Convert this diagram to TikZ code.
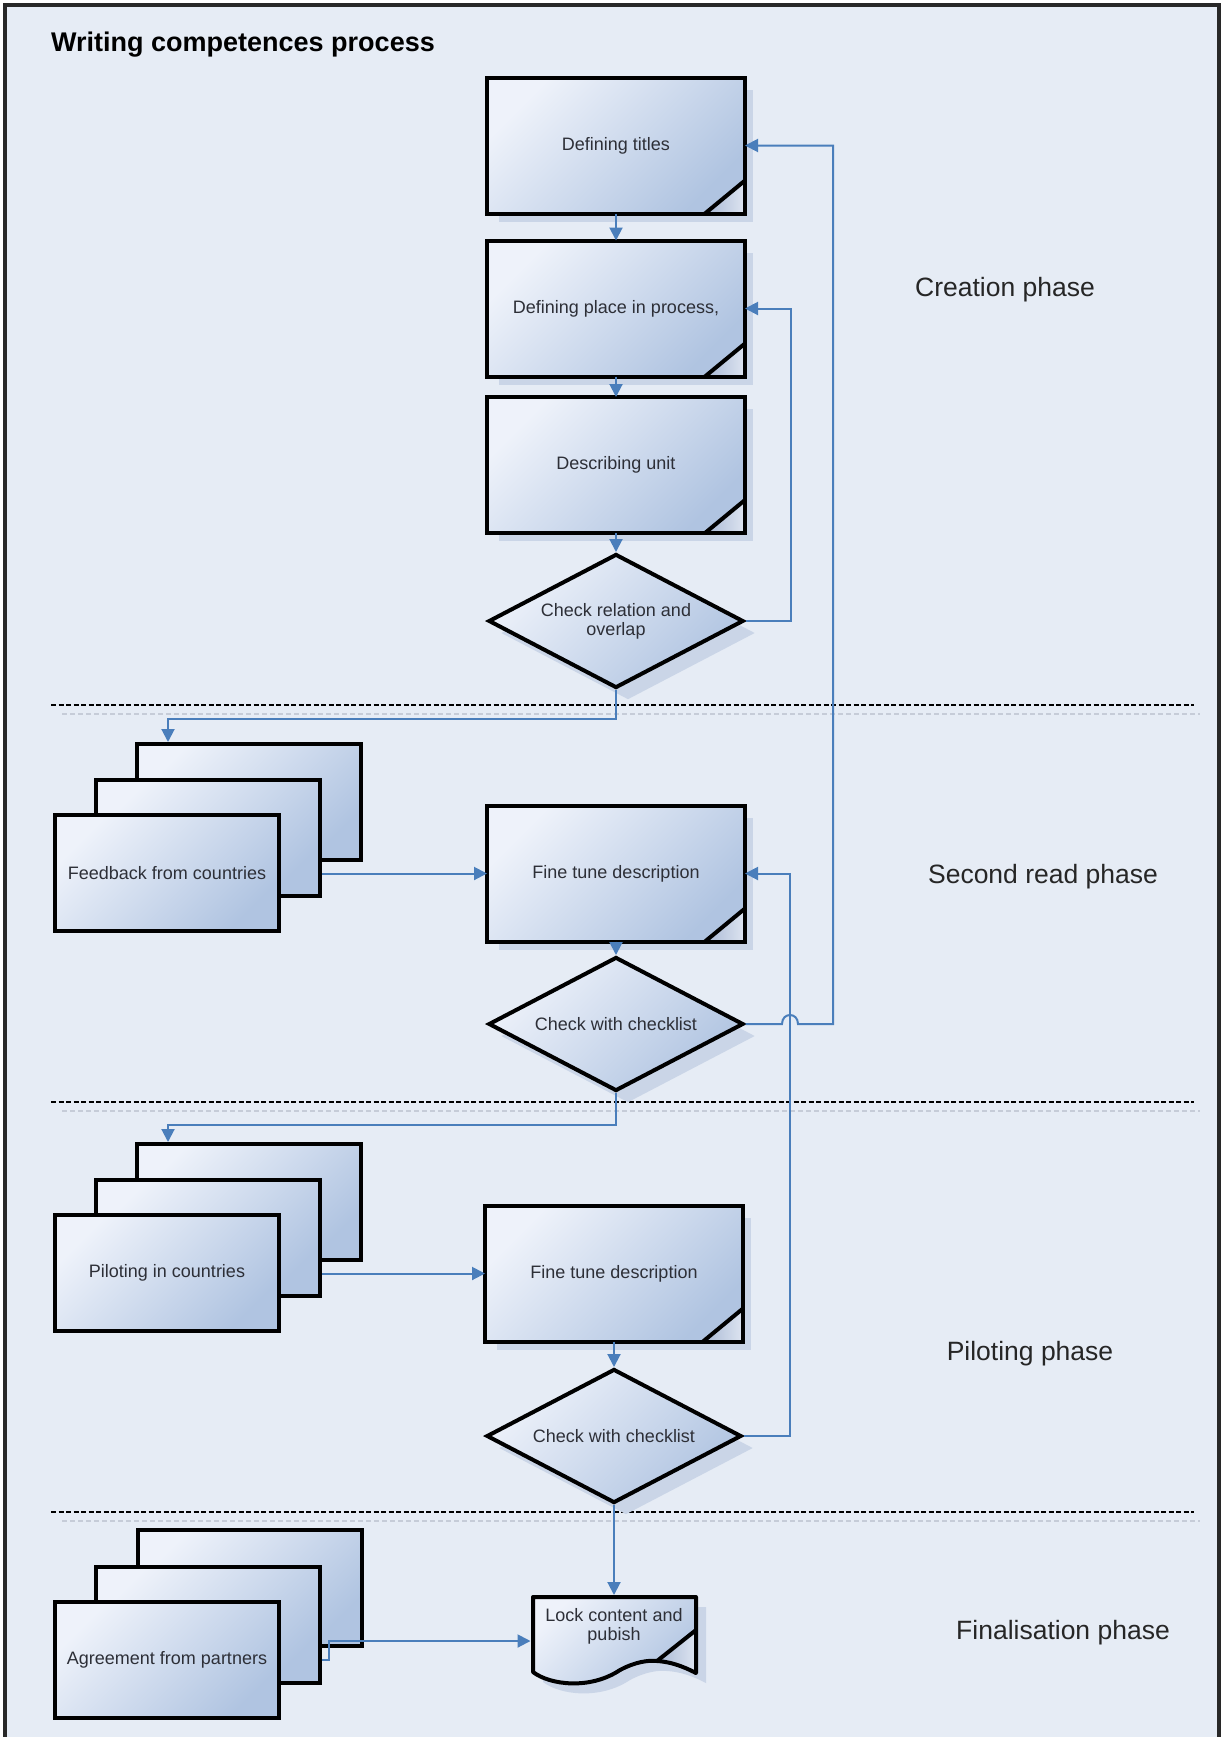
\documentclass[tikz,border=0pt]{standalone}
\usepackage{fontspec}
\setmainfont{Liberation Sans}
\usetikzlibrary{arrows.meta,shapes.geometric,shadows,calc}
\definecolor{bgc}{RGB}{230,236,245}
\definecolor{boxlight}{RGB}{238,242,250}
\definecolor{boxdark}{RGB}{176,196,225}
\definecolor{shadowc}{RGB}{202,213,231}
\definecolor{linec}{RGB}{74,126,187}
\definecolor{txtc}{RGB}{45,47,55}
\definecolor{folddark}{RGB}{168,184,212}
\definecolor{foldlight}{RGB}{222,229,241}
\definecolor{sepfaint}{RGB}{198,204,216}
\definecolor{framec}{RGB}{40,40,40}
\newcommand\boxfont{\fontsize{18}{19}\selectfont}
\newcommand\phasefont{\fontsize{26.5}{30}\selectfont}
\newcommand\titlefont{\fontsize{27}{31}\selectfont\bfseries}
\newcommand\foldcorner[1]{%
  \shade[left color=folddark, right color=foldlight]
    ([xshift=-40pt]#1.south east) -- (#1.south east) -- ([yshift=33pt]#1.south east) -- cycle;
  \draw[line width=4pt, line join=miter] (#1.north west) rectangle (#1.south east);
  \draw[line width=4pt] ([yshift=33pt]#1.south east) -- ([xshift=-40pt]#1.south east);
}
\begin{document}
\begin{tikzpicture}[x=1pt, y=-1pt,
  proc/.style={rectangle, minimum width=254pt, minimum height=132pt, inner sep=0pt, outer sep=2pt,
    top color=boxlight, bottom color=boxdark, shading angle=45,
    drop shadow={shadow xshift=10pt, shadow yshift=-10pt, fill=shadowc, opacity=1},
    font=\boxfont, text=txtc},
  decis/.style={diamond, aspect=1.93, minimum width=255pt, minimum height=134pt, inner sep=0pt,
    draw=black, line width=4pt, top color=boxlight, bottom color=boxdark, shading angle=45,
    drop shadow={shadow xshift=12pt, shadow yshift=-12pt, fill=shadowc, opacity=1},
    font=\boxfont, text=txtc, align=center},
  stk/.style={rectangle, minimum width=224pt, minimum height=116pt, inner sep=0pt,
    draw=black, line width=4pt, top color=boxlight, bottom color=boxdark, shading angle=45,
    font=\boxfont, text=txtc},
  phase/.style={font=\phasefont, text=black!85, inner sep=0pt},
  conn/.style={draw=linec, line width=2pt, -{Triangle[length=13pt,width=13pt]}},
  sepline/.style={draw=black, line width=2.2pt, dash pattern=on 5pt off 2.5pt},
  sepfaintline/.style={draw=sepfaint, line width=1.6pt, dash pattern=on 5pt off 3pt}
]
\useasboundingbox (0,0) rectangle (1223,1737);
\fill[white] (0,0) rectangle (1223,1737);
\draw[line width=4pt, draw=framec, fill=bgc] (5,5) rectangle (1219,1760);

% title
\node[anchor=west, font=\titlefont, inner sep=0pt] (title) at (51,45) {Writing competences process};

% separators
\foreach \yy in {705,1102,1512}{
  \draw[sepfaintline] (62,\yy+9) -- (1200,\yy+9);
  \draw[sepline] (51,\yy) -- (1194,\yy);
}

% creation phase
\node[proc] (b1) at (616,145.5) {Defining titles};
\foldcorner{b1}
\node[proc] (b2) at (616,308.5) {Defining place in process,};
\foldcorner{b2}
\node[proc] (b3) at (616,465) {Describing unit};
\foldcorner{b3}
\node[decis] (d1) at (616,621) {Check relation and\\overlap};

% second read
\node[stk] (s1c) at (249,802) {};
\node[stk] (s1b) at (208,838) {};
\node[stk] (s1a) at (167,873) {Feedback from countries};
\node[proc] (fine1) at (616,873.5) {Fine tune description};
\foldcorner{fine1}
\node[decis] (d2) at (616,1024) {Check with checklist};

% piloting
\node[stk] (s2c) at (249,1202) {};
\node[stk] (s2b) at (208,1238) {};
\node[stk] (s2a) at (167,1273) {Piloting in countries};
\node[proc] (fine2) at (614,1273.5) {Fine tune description};
\foldcorner{fine2}
\node[decis] (d3) at (614,1436) {Check with checklist};

% finalisation
\node[stk] (s3c) at (249.5,1588) {};
\node[stk] (s3b) at (208,1624.5) {};
\node[stk] (s3a) at (167,1660) {Agreement from partners};

% lock document shape
\fill[shadowc] (543,1607) -- (706,1607) -- (706,1683) .. controls (700,1680) and (685,1672) .. (667,1671)
  .. controls (658,1670) and (645,1672) .. (630,1680) .. controls (600,1700) and (560,1695) .. (543,1682) -- cycle;
\shade[top color=boxlight, bottom color=boxdark, shading angle=45]
  (533,1597) -- (696,1597) -- (696,1673) .. controls (690,1670) and (675,1662) .. (657,1661)
  .. controls (648,1660) and (635,1662) .. (620,1670) .. controls (590,1690) and (550,1685) .. (533,1672) -- cycle;
\shade[left color=folddark, right color=foldlight]
  (696,1630) -- (657,1661) .. controls (675,1662) and (690,1670) .. (696,1673) -- cycle;
\draw[line width=4pt, line join=round]
  (533,1597) -- (696,1597) -- (696,1673) .. controls (690,1670) and (675,1662) .. (657,1661)
  .. controls (648,1660) and (635,1662) .. (620,1670) .. controls (590,1690) and (550,1685) .. (533,1672) -- cycle;
\draw[line width=4pt] (696,1630) -- (657,1661);
\node[inner sep=0pt, outer sep=2pt, minimum width=163pt, minimum height=76pt] (lock) at (614,1635) {};
\node[font=\boxfont, text=txtc, align=center, inner sep=0pt] (locktext) at (614,1626) {Lock content and\\pubish};

% phase labels
\node[phase] (ph1) at (1005,290) {Creation phase};
\node[phase] (ph2) at (1043,877) {Second read phase};
\node[phase] (ph3) at (1030,1354) {Piloting phase};
\node[phase] (ph4) at (1063,1633) {Finalisation phase};

% connectors
\draw[conn] (b1.south) -- (b2.north);
\draw[conn] (b2.south) -- (b3.north);
\draw[conn] (b3.south) -- (d1.north);
\draw[conn] (d1.east) -| ([xshift=46pt]b2.east) -- (b2.east);
\draw[conn] (d1.south) -- ++(0,29) -| ([xshift=33pt]s1c.north west);
\draw[conn] (s1b.east |- fine1.west) -- (fine1.west);
\draw[conn] (fine1.south) -- (d2.north);
\draw[conn] (d3.east) -| ([xshift=45pt]fine1.east) -- (fine1.east);
\draw[conn] (d2.east) -- (782,1024) .. controls (782,1012) and (798,1012) .. (798,1024)
  -| ([xshift=88pt]b1.east) -- (b1.east);
\draw[conn] (d2.south) -- ++(0,32) -| ([xshift=33pt]s2c.north west);
\draw[conn] (s2b.east |- fine2.west) -- (fine2.west);
\draw[conn] (fine2.south) -- (d3.north);
\draw[conn] (d3.south) -- (lock.north);
\draw[conn] ([yshift=-35.5pt]s3b.east) -- ++(7,0) |- ([yshift=-6pt]lock.west);
\end{tikzpicture}
\end{document}
